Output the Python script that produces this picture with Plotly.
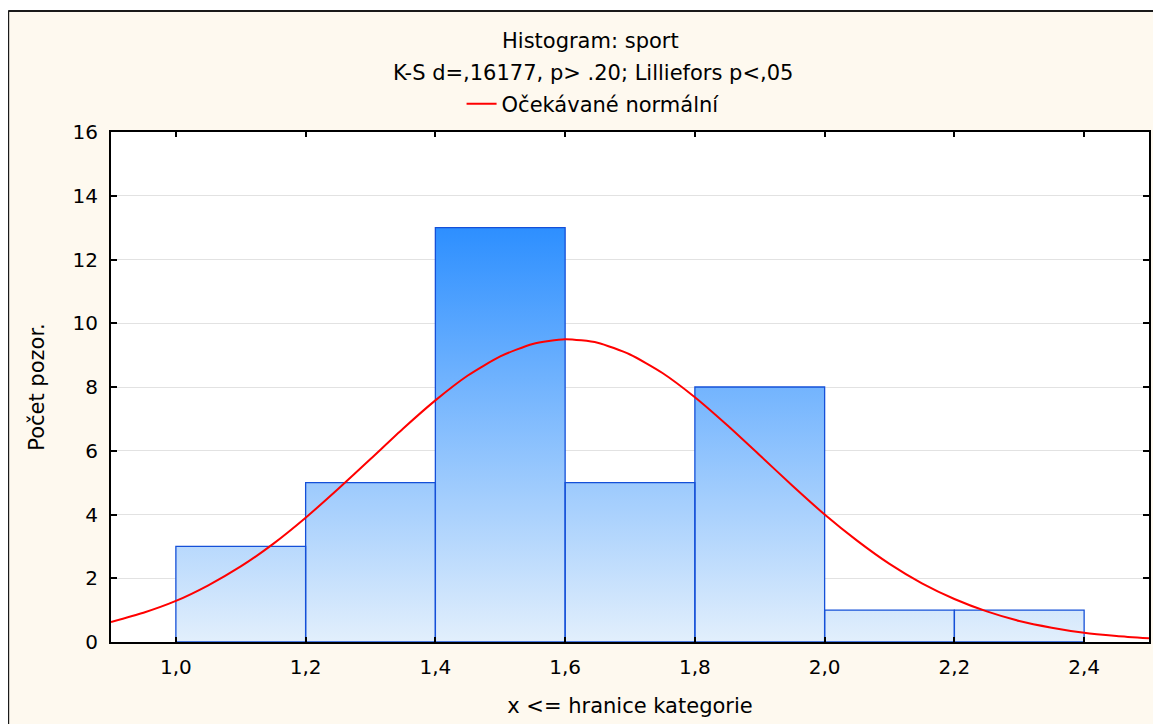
import plotly.graph_objects as go

# ---- data ----
bin_edges = [1.0, 1.2, 1.4, 1.6, 1.8, 2.0, 2.2, 2.4]
counts = [3, 5, 13, 5, 8, 1, 1]

normal_x = [0.90, 0.95, 1.00, 1.05, 1.10, 1.15, 1.20, 1.25, 1.30, 1.35, 1.40, 1.45,
            1.50, 1.55, 1.60, 1.65, 1.70, 1.75, 1.80, 1.85, 1.90, 1.95, 2.00, 2.05,
            2.10, 2.15, 2.20, 2.25, 2.30, 2.35, 2.40, 2.45, 2.50]
normal_y = [0.63, 0.92, 1.29, 1.78, 2.37, 3.08, 3.90, 4.80, 5.74, 6.69, 7.58, 8.36,
            8.96, 9.35, 9.50, 9.39, 9.02, 8.44, 7.68, 6.80, 5.86, 4.91, 4.00, 3.18,
            2.45, 1.84, 1.35, 0.96, 0.66, 0.45, 0.29, 0.19, 0.115]

x_ticks = [1.0, 1.2, 1.4, 1.6, 1.8, 2.0, 2.2, 2.4]
y_ticks = [0, 2, 4, 6, 8, 10, 12, 14, 16]

title_line1 = "Histogram: sport"
title_line2 = "K-S d=,16177, p> .20; Lilliefors p<,05"
legend_name = "Očekávané normální"
x_title = "x <= hranice kategorie"
y_title = "Počet pozor."

# ---- styles ----
FONT = "DejaVu Sans"
CREAM = "#fef9ef"
BAR_LINE = "#1550d8"
GRAD_LOW = "#e2effc"
GRAD_HIGH = "#2d8fff"

# histogram bars as filled polygons (built from bin edges and counts)
bx, by = [], []
for i, c in enumerate(counts):
    l, r = bin_edges[i], bin_edges[i + 1]
    bx += [l, l, r, r, l, None]
    by += [0, c, c, 0, 0, None]

fig = go.Figure()
fig.add_trace(go.Scatter(
    x=bx, y=by, mode="lines", fill="toself",
    line=dict(color=BAR_LINE, width=1.3),
    fillgradient=dict(type="vertical",
                      colorscale=[[0, GRAD_LOW], [1, GRAD_HIGH]],
                      start=0, stop=max(counts)),
    showlegend=False, hoverinfo="skip",
))
fig.add_trace(go.Scatter(
    x=normal_x, y=normal_y, mode="lines", name=legend_name,
    line=dict(color="#ff0000", width=2, shape="spline", smoothing=0.6),
))

# paper coordinate helpers, in page pixels (page has an 8px body margin;
# plot area spans x 111..1151 px and y 132..642 px of the page)
def px_x(p):
    return (p - 111) / 1040.0

def px_y(p):
    return (642 - p) / 510.0

shapes = [
    dict(type="rect", xref="paper", yref="paper", x0=px_x(-5), x1=px_x(1170),
         y0=px_y(11), y1=px_y(-5), fillcolor="white", line=dict(width=0), layer="below"),
    dict(type="rect", xref="paper", yref="paper", x0=px_x(-5), x1=px_x(8),
         y0=px_y(730), y1=px_y(-5), fillcolor="white", line=dict(width=0), layer="below"),
    dict(type="line", xref="paper", yref="paper", x0=px_x(8), x1=px_x(1170),
         y0=px_y(11), y1=px_y(11), line=dict(color="#1a1a1a", width=2)),
    dict(type="line", xref="paper", yref="paper", x0=px_x(8), x1=px_x(8),
         y0=px_y(11), y1=px_y(730), line=dict(color="#1a1a1a", width=2)),
]

annotations = [
    dict(text=title_line1, xref="paper", yref="paper", x=px_x(591), y=px_y(41),
         showarrow=False, xanchor="center", yanchor="middle",
         font=dict(family=FONT, size=21, color="black")),
    dict(text=title_line2, xref="paper", yref="paper", x=px_x(594), y=px_y(73),
         showarrow=False, xanchor="center", yanchor="middle",
         font=dict(family=FONT, size=21, color="black")),
]

fig.update_layout(
    width=1153, height=716,
    margin=dict(l=103, r=10, t=124, b=82),
    paper_bgcolor=CREAM, plot_bgcolor="white",
    separators=", ",
    font=dict(family=FONT, size=20, color="black"),
    shapes=shapes, annotations=annotations,
    showlegend=True,
    legend=dict(x=px_x(594), y=px_y(104), xanchor="center", yanchor="middle",
                bgcolor="rgba(0,0,0,0)", font=dict(family=FONT, size=21)),
    xaxis=dict(range=[0.9, 2.5], tickvals=x_ticks, tickformat=".1f",
               showgrid=False, zeroline=False,
               showline=True, linecolor="black", linewidth=2, mirror="allticks",
               ticks="inside", ticklen=5, tickwidth=2, tickcolor="black",
               ticklabelstandoff=6,
               title=dict(text=x_title, standoff=20, font=dict(size=21))),
    yaxis=dict(range=[0, 16], tickvals=y_ticks,
               showgrid=True, gridcolor="#e2e2e2", gridwidth=1, zeroline=False,
               showline=True, linecolor="black", linewidth=2, mirror="allticks",
               ticks="inside", ticklen=6, tickwidth=2, tickcolor="black",
               ticklabelstandoff=7,
               title=dict(text=y_title, standoff=22, font=dict(size=21))),
)

fig.write_html("out.html", config={"displayModeBar": False})
